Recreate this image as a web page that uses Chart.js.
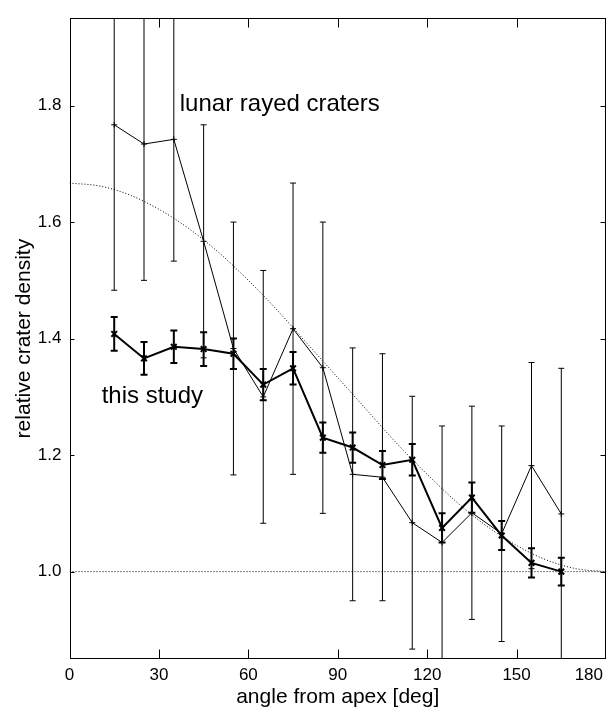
<!DOCTYPE html>
<html>
<head>
<meta charset="utf-8">
<script src="https://cdn.jsdelivr.net/npm/chart.js@4"></script>
<style>
  body { margin: 0; background: #fff; }
  canvas { display: block; }
</style>
</head>
<body>
<canvas id="chartCrateras" width="612" height="711"></canvas>
<script>
const FONTE = "'Liberation Sans', Arial, Helvetica, sans-serif";

// bins de angulo (graus a partir do apex)
const angulos = [15, 25, 35, 45, 55, 65, 75, 85, 95, 105, 115, 125, 135, 145, 155, 165];

// crateras raiadas lunares (linha fina)
const densidadeLunar = [1.767, 1.734, 1.742, 1.567, 1.383, 1.300, 1.417, 1.350, 1.167, 1.162, 1.084, 1.050, 1.101, 1.065, 1.182, 1.099];
const erroLunar = [0.284, 0.234, 0.209, 0.200, 0.217, 0.217, 0.250, 0.250, 0.217, 0.212, 0.217, 0.200, 0.183, 0.185, 0.177, 0.250];

// este estudo (linha grossa)
const densidadeEstudo = [1.408, 1.366, 1.386, 1.382, 1.374, 1.321, 1.349, 1.230, 1.213, 1.183, 1.192, 1.075, 1.127, 1.062, 1.015, 1.000];
const erroEstudo = [0.029, 0.028, 0.028, 0.029, 0.026, 0.027, 0.028, 0.026, 0.026, 0.024, 0.027, 0.025, 0.026, 0.025, 0.025, 0.024];

// curva pontilhada (modelo)
const angulosModelo = [0, 10, 20, 30, 40, 50, 60, 70, 80, 90, 100, 110, 120, 130, 140, 150, 160, 170, 180];
const densidadeModelo = [1.667, 1.662, 1.647, 1.622, 1.589, 1.548, 1.500, 1.447, 1.390, 1.333, 1.276, 1.219, 1.167, 1.119, 1.078, 1.045, 1.020, 1.005, 1.000];

const ticksX = [0, 30, 60, 90, 120, 150, 180];
const ticksY = [1.0, 1.2, 1.4, 1.6, 1.8];

const textos = [
  { texto: "lunar rayed craters", x: 37.0, y: 1.790 },
  { texto: "this study", x: 10.8, y: 1.290 },
];

function pontos(xs, ys) {
  return xs.map((x, i) => ({ x: x, y: ys[i] }));
}

// barras de erro desenhadas pelas escalas do proprio Chart.js
const pluginErros = {
  id: "barrasErro",
  beforeDatasetsDraw(chart) {
    const { ctx, chartArea, scales } = chart;
    ctx.save();
    ctx.beginPath();
    ctx.rect(chartArea.left, chartArea.top, chartArea.right - chartArea.left, chartArea.bottom - chartArea.top);
    ctx.clip();
    chart.data.datasets.forEach((ds) => {
      if (!ds.erros) return;
      ctx.strokeStyle = ds.borderColor;
      ctx.lineWidth = ds.larguraErro;
      ds.data.forEach((p, i) => {
        const px = scales.x.getPixelForValue(p.x);
        const yTop = scales.y.getPixelForValue(p.y + ds.erros[i]);
        const yBot = scales.y.getPixelForValue(p.y - ds.erros[i]);
        const c = ds.capa;
        ctx.beginPath();
        ctx.moveTo(px, yTop);
        ctx.lineTo(px, yBot);
        ctx.moveTo(px - c, yTop);
        ctx.lineTo(px + c, yTop);
        ctx.moveTo(px - c, yBot);
        ctx.lineTo(px + c, yBot);
        ctx.stroke();
      });
    });
    ctx.restore();
  },
};

// moldura, ticks para dentro, rotulos do eixo x e textos
const pluginMoldura = {
  id: "moldura",
  afterDraw(chart) {
    const { ctx, chartArea, scales } = chart;
    const l = Math.round(chartArea.left) + 0.5;
    const r = Math.round(chartArea.right) - 0.5;
    const t = Math.round(chartArea.top) + 0.5;
    const b = Math.round(chartArea.bottom) - 0.5;
    ctx.save();
    ctx.strokeStyle = "#000";
    ctx.lineWidth = 1;
    ctx.strokeRect(l, t, r - l, b - t);

    ctx.beginPath();
    ticksX.forEach((v) => {
      const px = Math.round(scales.x.getPixelForValue(v)) + 0.5;
      if (px <= l + 1 || px >= r - 1) return;
      ctx.moveTo(px, b);
      ctx.lineTo(px, b - 9);
      ctx.moveTo(px, t);
      ctx.lineTo(px, t + 9);
    });
    ticksY.forEach((v) => {
      const py = Math.round(scales.y.getPixelForValue(v)) + 0.5;
      ctx.moveTo(l, py);
      ctx.lineTo(l + 4, py);
      ctx.moveTo(r, py);
      ctx.lineTo(r - 5, py);
    });
    ctx.stroke();

    ctx.fillStyle = "#000";
    ctx.font = "17px " + FONTE;
    ctx.textAlign = "center";
    ctx.textBaseline = "middle";
    ticksX.forEach((v) => {
      const label = String(v);
      const w = ctx.measureText(label).width;
      let px = scales.x.getPixelForValue(v);
      px = Math.min(px, chart.width - 9 - w / 2);
      ctx.fillText(label, px, b + 17);
    });

    ctx.font = "24px " + FONTE;
    ctx.textAlign = "left";
    ctx.textBaseline = "alphabetic";
    textos.forEach((a) => {
      ctx.fillText(a.texto, scales.x.getPixelForValue(a.x), scales.y.getPixelForValue(a.y));
    });
    ctx.restore();
  },
};

const ctx = document.getElementById("chartCrateras").getContext("2d");

new Chart(ctx, {
  type: "scatter",
  data: {
    datasets: [
      {
        label: "model",
        data: pontos(angulosModelo, densidadeModelo),
        showLine: true,
        borderColor: "#000",
        borderWidth: 1,
        borderDash: [1, 2],
        pointRadius: 0,
        cubicInterpolationMode: "monotone",
      },
      {
        label: "unity",
        data: pontos([0, 180], [1.0, 1.0]),
        showLine: true,
        borderColor: "#000",
        borderWidth: 1,
        borderDash: [1, 2],
        pointRadius: 0,
      },
      {
        label: "lunar rayed craters",
        data: pontos(angulos, densidadeLunar),
        erros: erroLunar,
        larguraErro: 1,
        capa: 3,
        showLine: true,
        borderColor: "#000",
        borderWidth: 1,
        pointStyle: "cross",
        pointRadius: 3,
        pointBorderWidth: 1,
        pointBorderColor: "#000",
      },
      {
        label: "this study",
        data: pontos(angulos, densidadeEstudo),
        erros: erroEstudo,
        larguraErro: 2,
        capa: 3.5,
        showLine: true,
        borderColor: "#000",
        borderWidth: 2,
        pointStyle: "crossRot",
        pointRadius: 4,
        pointBorderWidth: 2,
        pointBorderColor: "#000",
      },
    ],
  },
  options: {
    responsive: false,
    animation: false,
    layout: {
      padding: { left: 0, right: 6, top: 11, bottom: 0 },
    },
    plugins: {
      legend: { display: false },
      tooltip: { enabled: false },
    },
    scales: {
      x: {
        type: "linear",
        min: 0,
        max: 180,
        border: { display: false },
        grid: { display: false, drawTicks: false },
        ticks: { display: false },
        afterBuildTicks: (scale) => {
          scale.ticks = ticksX.map((v) => ({ value: v }));
        },
        afterFit: (scale) => {
          scale.height = 52;
        },
        title: {
          display: true,
          text: "angle from apex [deg]",
          color: "#000",
          font: { family: FONTE, size: 21 },
          padding: { top: 0, bottom: 1 },
        },
      },
      y: {
        type: "linear",
        min: 0.85,
        max: 1.95,
        border: { display: false },
        grid: { display: false, drawTicks: false },
        afterBuildTicks: (scale) => {
          scale.ticks = ticksY.map((v) => ({ value: v }));
        },
        afterFit: (scale) => {
          scale.width = 69.5;
        },
        ticks: {
          padding: 8,
          color: "#000",
          font: { family: FONTE, size: 17 },
          callback: (value) => value.toFixed(1),
        },
        title: {
          display: true,
          text: "relative crater density",
          color: "#000",
          font: { family: FONTE, size: 21 },
          padding: { top: 12, bottom: 0 },
        },
      },
    },
  },
  plugins: [pluginErros, pluginMoldura],
});
</script>
</body>
</html>
